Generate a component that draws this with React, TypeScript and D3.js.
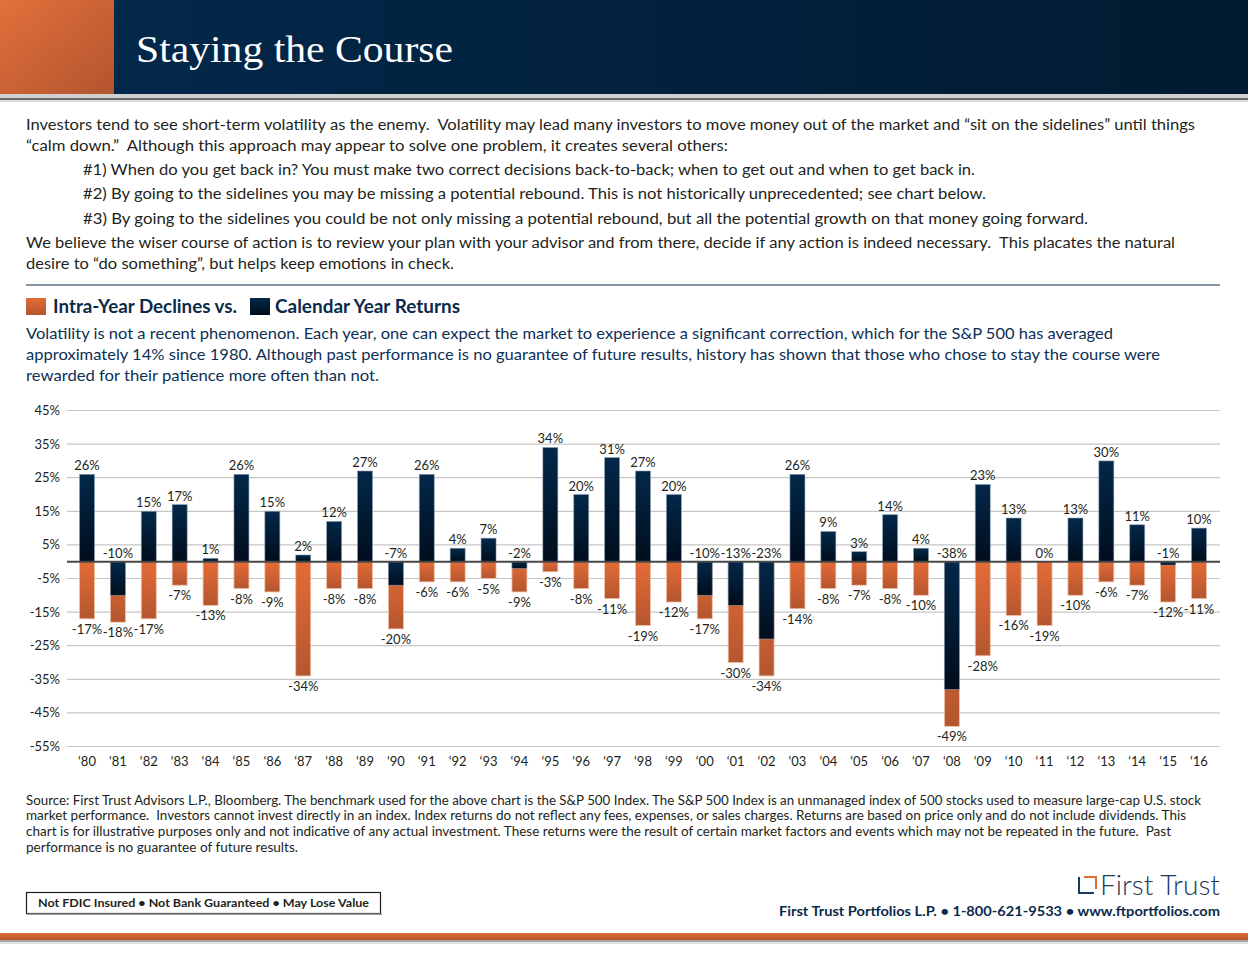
import React from "react";
import * as d3 from "d3";

const years = ["'80","'81","'82","'83","'84","'85","'86","'87","'88","'89","'90","'91","'92","'93","'94","'95","'96","'97","'98","'99","'00","'01","'02","'03","'04","'05","'06","'07","'08","'09","'10","'11","'12","'13","'14","'15","'16"].map(s => s.replace("'", "\u2018"));
const calendarReturns = [26,-10,15,17,1,26,15,2,12,27,-7,26,4,7,-2,34,20,31,27,20,-10,-13,-23,26,9,3,14,4,-38,23,13,0,13,30,11,-1,10];
const intraYearDeclines = [-17,-18,-17,-7,-13,-8,-9,-34,-8,-8,-20,-6,-6,-5,-9,-3,-8,-11,-19,-12,-17,-30,-34,-14,-8,-7,-8,-10,-49,-28,-16,-19,-10,-6,-7,-12,-11];
const yTicks = [45,35,25,15,5,-5,-15,-25,-35,-45,-55];

const bodyLines: [string, number, number, number][] = [
  ["Investors tend to see short-term volatility as the enemy.  Volatility may lead many investors to move money out of the market and \u201csit on the sidelines\u201d until things", 26, 130, 1169],
  ["\u201ccalm down.\u201d  Although this approach may appear to solve one problem, it creates several others:", 26, 151, 702],
  ["#1) When do you get back in? You must make two correct decisions back-to-back; when to get out and when to get back in.", 83, 175, 892],
  ["#2) By going to the sidelines you may be missing a potential rebound. This is not historically unprecedented; see chart below.", 83, 199, 903],
  ["#3) By going to the sidelines you could be not only missing a potential rebound, but all the potential growth on that money going forward.", 83, 224, 1005],
  ["We believe the wiser course of action is to review your plan with your advisor and from there, decide if any action is indeed necessary.  This placates the natural", 26, 248, 1149],
  ["desire to \u201cdo something\u201d, but helps keep emotions in check.", 26, 269, 428],
];
const subLines: [string, number][] = [
  ["Volatility is not a recent phenomenon. Each year, one can expect the market to experience a significant correction, which for the S&P 500 has averaged", 1087],
  ["approximately 14% since 1980. Although past performance is no guarantee of future results, history has shown that those who chose to stay the course were", 1134],
  ["rewarded for their patience more often than not.", 353],
];
const sourceLines: [string, number][] = [
  ["Source: First Trust Advisors L.P., Bloomberg. The benchmark used for the above chart is the S&P 500 Index. The S&P 500 Index is an unmanaged index of 500 stocks used to measure large-cap U.S. stock", 1175],
  ["market performance.  Investors cannot invest directly in an index. Index returns do not reflect any fees, expenses, or sales charges. Returns are based on price only and do not include dividends. This", 1160],
  ["chart is for illustrative purposes only and not indicative of any actual investment. These returns were the result of certain market factors and events which may not be repeated in the future.  Past", 1145],
  ["performance is no guarantee of future results.", 272],
];

const FONT = "Lato, 'Noto Sans', sans-serif";
const TXT = "#231f20";
const NAVY = "#0b2a4a";

export default function App() {
  const x = d3.scalePoint<string>().domain(years).range([66, 1220]).padding(0.68);
  const y = d3.scaleLinear().domain([-55, 45]).range([746.5, 410.5]);
  const bw = 15;
  const fmt = (v: number) => `${v}%`;

  return (
    <svg width={1248} height={959} style={{ position: "absolute", left: 0, top: 0, background: "#fff" }} fontFamily={FONT}>
      <defs>
        <linearGradient id="hdrOrange" x1="0" y1="0" x2="1" y2="1">
          <stop offset="0" stopColor="#e2703b" />
          <stop offset="1" stopColor="#b3552f" />
        </linearGradient>
        <linearGradient id="hdrNavy" x1="0" y1="0" x2="1" y2="0">
          <stop offset="0" stopColor="#03284a" />
          <stop offset="1" stopColor="#011a30" />
        </linearGradient>
        <linearGradient id="barOrange" x1="0" y1="0" x2="0" y2="1">
          <stop offset="0" stopColor="#e46b37" />
          <stop offset="1" stopColor="#b4562f" />
        </linearGradient>
        <linearGradient id="barNavy" x1="0" y1="0" x2="0" y2="1">
          <stop offset="0" stopColor="#03284a" />
          <stop offset="1" stopColor="#000d1c" />
        </linearGradient>
        <linearGradient id="footBar" x1="0" y1="0" x2="0" y2="1">
          <stop offset="0" stopColor="#e06c38" />
          <stop offset="1" stopColor="#b5552f" />
        </linearGradient>
      </defs>

      {/* Header */}
      <rect x={0} y={0} width={114} height={94} fill="url(#hdrOrange)" />
      <rect x={114} y={0} width={1134} height={94} fill="url(#hdrNavy)" />
      <rect x={0} y={94} width={1248} height={4} fill="#d0d0d0" />
      <rect x={0} y={98} width={1248} height={2} fill="#6b6b6b" />
      <rect x={0} y={100} width={1248} height={2} fill="#dcdcdc" />
      <text x={136} y={62} fill="#fff" fontFamily="'Liberation Serif', 'DejaVu Serif', serif" fontSize={37} textLength={317} lengthAdjust="spacingAndGlyphs">Staying the Course</text>

      {/* Body text */}
      {bodyLines.map(([t, lx, ly, w], i) => (
        <text key={i} x={lx} y={ly} fill={TXT} fontSize={15.5} textLength={w} lengthAdjust="spacingAndGlyphs" style={{ whiteSpace: "pre" }}>{t}</text>
      ))}
      <line x1={26} x2={1220} y1={285} y2={285} stroke={NAVY} strokeWidth={1.2} />

      {/* Legend */}
      <rect x={26} y={298} width={20} height={17} fill="url(#barOrange)" />
      <text x={53} y={313} fill={NAVY} fontWeight="bold" fontSize={18} textLength={184} lengthAdjust="spacingAndGlyphs">Intra-Year Declines vs.</text>
      <rect x={250} y={298} width={20} height={17} fill="url(#barNavy)" />
      <text x={275} y={313} fill={NAVY} fontWeight="bold" fontSize={18} textLength={185} lengthAdjust="spacingAndGlyphs">Calendar Year Returns</text>
      {subLines.map(([t, w], i) => (
        <text key={i} x={26} y={339 + i * 21} fill="#0d2f55" fontSize={16} textLength={w} lengthAdjust="spacingAndGlyphs">{t}</text>
      ))}

      {/* Gridlines */}
      {yTicks.map(v => (
        <g key={v}>
          <line x1={67} x2={1220} y1={y(v)} y2={y(v)} stroke="#c6c6c6" strokeWidth={1.2} />
          <text x={60} y={y(v) + 4.5} textAnchor="end" fill={TXT} fontSize={13}>{fmt(v)}</text>
        </g>
      ))}

      {/* Bars */}
      {years.map((yr, i) => {
        const cx = x(yr) as number;
        const d = intraYearDeclines[i];
        return (
          <rect key={"d" + i} x={cx - bw / 2} y={y(0)} width={bw} height={y(d) - y(0)} fill="url(#barOrange)" stroke="#f0c2a6" strokeWidth={0.8} />
        );
      })}
      {years.map((yr, i) => {
        const cx = x(yr) as number;
        const r = calendarReturns[i];
        if (r === 0) return null;
        const top = Math.min(y(r), y(0));
        const h = Math.abs(y(r) - y(0));
        return (
          <rect key={"r" + i} x={cx - bw / 2} y={top} width={bw} height={h} fill="url(#barNavy)" stroke="#8da2b6" strokeWidth={0.8} strokeOpacity={0.7} />
        );
      })}
      <line x1={67} x2={1220} y1={y(0)} y2={y(0)} stroke="#474747" strokeWidth={2} />

      {/* Labels */}
      {years.map((yr, i) => {
        const cx = x(yr) as number;
        const r = calendarReturns[i];
        const d = intraYearDeclines[i];
        const ry = r > 0 ? y(r) - 4 : y(0) - 4;
        return (
          <g key={"l" + i} fill={TXT} fontSize={13} textAnchor="middle">
            <text x={cx} y={ry}>{fmt(r)}</text>
            <text x={cx} y={y(d) + 15}>{fmt(d)}</text>
            <text x={cx} y={766}>{yr}</text>
          </g>
        );
      })}

      {/* Source */}
      {sourceLines.map(([t, w], i) => (
        <text key={i} x={26} y={804.5 + i * 15.7} fill={TXT} fontSize={12.5} textLength={w} lengthAdjust="spacingAndGlyphs" style={{ whiteSpace: "pre" }}>{t}</text>
      ))}

      {/* Footer */}
      <rect x={26.5} y={892.5} width={354} height={21} fill="#fff" stroke="#231f20" strokeWidth={1.2} />
      <rect x={27} y={913.5} width={355} height={1.5} fill="#9a9a9a" />
      <text x={38} y={907} fill={TXT} fontWeight="bold" fontSize={12} textLength={331} lengthAdjust="spacingAndGlyphs">Not FDIC Insured • Not Bank Guaranteed • May Lose Value</text>

      <path d="M1079,877 V893 H1094" fill="none" stroke="#1b3a5c" strokeWidth={2} />
      <path d="M1084,877 H1096 V889" fill="none" stroke="#e06c38" strokeWidth={2} />
      <text x={1220} y={895} textAnchor="end" fill="#1b3a5c" fontSize={27} fontWeight={300} textLength={120} lengthAdjust="spacingAndGlyphs">First Trust</text>
      <text x={1220} y={916} textAnchor="end" fill={NAVY} fontWeight="bold" fontSize={14} textLength={441} lengthAdjust="spacingAndGlyphs">First Trust Portfolios L.P. • 1-800-621-9533 • www.ftportfolios.com</text>

      <rect x={0} y={933} width={1248} height={7} fill="url(#footBar)" />
      <rect x={0} y={940} width={1248} height={2} fill="#a8a8a8" />
      <rect x={0} y={942} width={1248} height={2} fill="#e2e2e2" />
    </svg>
  );
}
